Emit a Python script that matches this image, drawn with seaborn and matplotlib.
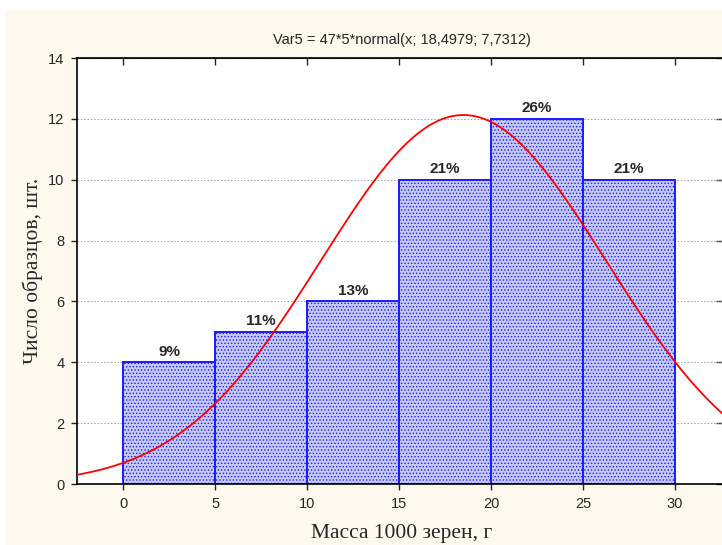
import numpy as np
import pandas as pd
import matplotlib
matplotlib.use('Agg')
import matplotlib.pyplot as plt
from matplotlib.patches import Rectangle
import seaborn as sns

# bins and counts
bin_edges = [0, 5, 10, 15, 20, 25, 30]
counts = [4, 5, 6, 10, 12, 10]
pct_labels = ['9%', '11%', '13%', '21%', '26%', '21%']

# fitted normal from the title: 47*5*normal(x; 18,4979; 7,7312)
n_obs = 47
bin_width = 5
mu = 18.4979
sigma = 7.7312

title = 'Var5 = 47*5*normal(x; 18,4979; 7,7312)'
x_label = 'Масса 1000 зерен, г'
y_label = 'Число образцов, шт.'

sns.set_style('white')
plt.rcParams['font.family'] = ['Liberation Sans', 'DejaVu Sans']
plt.rcParams['hatch.linewidth'] = 0.6

centers = [(a + b) / 2 for a, b in zip(bin_edges[:-1], bin_edges[1:])]
df = pd.DataFrame({'center': centers, 'count': counts})

fig = plt.figure(figsize=(7.22, 5.45), dpi=100, facecolor='white')
fig.patches.append(Rectangle((5 / 722, 0), 1, 1 - 10 / 545, transform=fig.transFigure,
                             facecolor='#fdf9ee', edgecolor='none', zorder=-10))
# right spine sits just past the image edge, as in the reference
ax = fig.add_axes([77 / 722, 61 / 545, 650 / 722, 426 / 545])
ax.set_facecolor('white')

sns.histplot(data=df, x='center', weights='count', bins=bin_edges, ax=ax,
             color='#c6caf6', edgecolor='#1a1aff', linewidth=1.4, alpha=1,
             hatch='.....', zorder=2)

xs = np.linspace(-2.5, 33, 400)
ys = n_obs * bin_width * np.exp(-0.5 * ((xs - mu) / sigma) ** 2) / (sigma * np.sqrt(2 * np.pi))
sns.lineplot(x=xs, y=ys, ax=ax, color='#ff0000', linewidth=1.3, zorder=3)

for c, n, lab in zip(centers, counts, pct_labels):
    ax.text(c, n + 0.12, lab, ha='center', va='bottom', fontsize=11, fontweight='bold', zorder=4)

ax.set_xlim(-2.5, 32.82)
ax.set_ylim(0, 14)
ax.set_xticks(range(0, 35, 5))
ax.set_yticks(range(0, 16, 2))
ax.yaxis.grid(True, linestyle=(0, (2, 2)), color='#999999', linewidth=0.6, zorder=0)
ax.set_axisbelow(True)
for s in ax.spines.values():
    s.set_color('black')
    s.set_linewidth(1.2)
ax.tick_params(axis='both', direction='out', length=4, width=1, labelsize=10.5, pad=5,
               left=True, bottom=True)

top = ax.secondary_xaxis('top')
top.set_xticks(range(0, 35, 5))
top.tick_params(direction='in', length=5, width=1, labeltop=False)
right = ax.secondary_yaxis('right')
right.set_yticks(range(0, 16, 2))
right.tick_params(direction='in', length=8, width=1, labelright=False)

ax.set_title(title, fontsize=10.5, pad=10)
ax.set_xlabel(x_label, fontsize=15.5, family=['Liberation Serif'], labelpad=10)
ax.set_ylabel(y_label, fontsize=15.5, family=['Liberation Serif'], labelpad=4)

fig.savefig('out.png', dpi=100, facecolor=fig.get_facecolor())
